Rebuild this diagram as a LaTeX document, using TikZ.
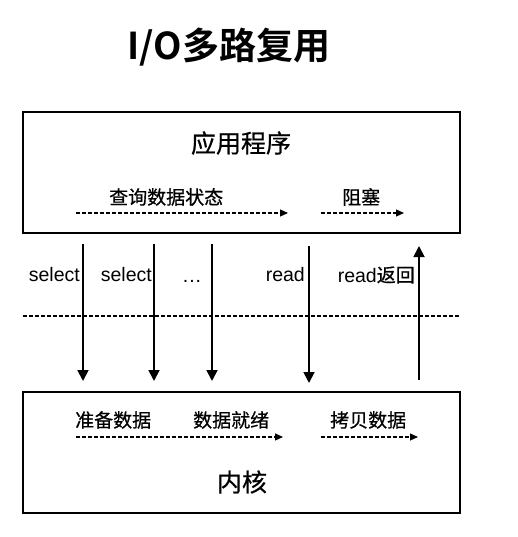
\documentclass[tikz,border=0pt]{standalone}
\usepackage{fontspec}
\setmainfont{Noto Sans CJK SC}[FakeBold=0.6]
\newfontfamily\cjkbold{Noto Sans CJK SC Bold}
\newfontfamily\lat{Liberation Sans}
\usetikzlibrary{arrows.meta}
\tikzset{
  box/.style={draw, line width=2pt, inner sep=0pt},
  lbl/.style={inner sep=0pt, font=\fontsize{19}{19}\selectfont},
  latl/.style={inner sep=0pt, font=\lat\fontsize{19.5}{19.5}\selectfont},
  call/.style={line width=1.8pt, -{Triangle[width=11pt,length=11pt]}},
  flow/.style={line width=1.1pt, dash pattern=on 3.5pt off 2.5pt, -{Triangle[width=7pt,length=8pt]}},
}
\begin{document}
\begin{tikzpicture}[x=1pt,y=-1pt]
\useasboundingbox (0,0) rectangle (517,537);
\node[inner sep=0pt, font=\cjkbold\fontsize{37}{37}\selectfont] (title) at (229,47) {I/O多路复用};
\node[box, minimum width=437pt, minimum height=121pt] (app) at (241.5,172.5) {};
\node[box, minimum width=437pt, minimum height=121pt] (kern) at (241.5,452.5) {};
\node[inner sep=0pt, font=\fontsize{25}{25}\selectfont] (appt) at (241,143) {应用程序};
\node[inner sep=0pt, font=\fontsize{25}{25}\selectfont] (kernt) at (242,482) {内核};
% app box flows
\node[lbl, anchor=west] (q) at (109,197) {查询数据状态};
\node[lbl, anchor=west] (blk) at (342,197) {阻塞};
\coordinate (q1) at (76,213); \coordinate (q2) at (288,213);
\coordinate (b1) at (321,213); \coordinate (b2) at (404,213);
\draw[flow] (q1) -- (q2);
\draw[flow] (b1) -- (b2);
% kernel flows
\node[lbl, anchor=west] (prep) at (75,420) {准备数据};
\node[lbl, anchor=west] (ready) at (193,420) {数据就绪};
\node[lbl, anchor=west] (copy) at (330,420) {拷贝数据};
\coordinate (k1) at (76,437); \coordinate (k2) at (283,437);
\coordinate (c1) at (321,437); \coordinate (c2) at (418,437);
\draw[flow] (k1) -- (k2);
\draw[flow] (c1) -- (c2);
% divider
\coordinate (d1) at (23,316); \coordinate (d2) at (460,316);
\draw[line width=1.1pt, dash pattern=on 3.5pt off 2.5pt] (d1) -- (d2);
% calls
\coordinate (s1a) at (83,244); \coordinate (s1b) at (83,381);
\coordinate (s2a) at (154,244); \coordinate (s2b) at (154,381);
\coordinate (s3a) at (212,244); \coordinate (s3b) at (212,381);
\coordinate (r1a) at (309,246); \coordinate (r1b) at (309,383);
\coordinate (r2a) at (419,380); \coordinate (r2b) at (419,246);
\draw[call] (s1a) -- (s1b);
\draw[call] (s2a) -- (s2b);
\draw[call] (s3a) -- (s3b);
\draw[call] (r1a) -- (r1b);
\draw[call] (r2a) -- (r2b);
\node[latl, anchor=east] (sel1) at (80,275) {select};
\node[latl, anchor=east] (sel2) at (152,275) {select};
\node[latl, anchor=base] (dots) at (192,282) {.\kern1pt.\kern1pt.};
\node[latl, anchor=east] (rd) at (305,275) {read};
\node[inner sep=0pt, anchor=east] (rdr) at (415,275) {{\lat\fontsize{19.5}{19.5}\selectfont read}{\fontsize{19}{19}\selectfont 返回}};
\end{tikzpicture}
\end{document}
